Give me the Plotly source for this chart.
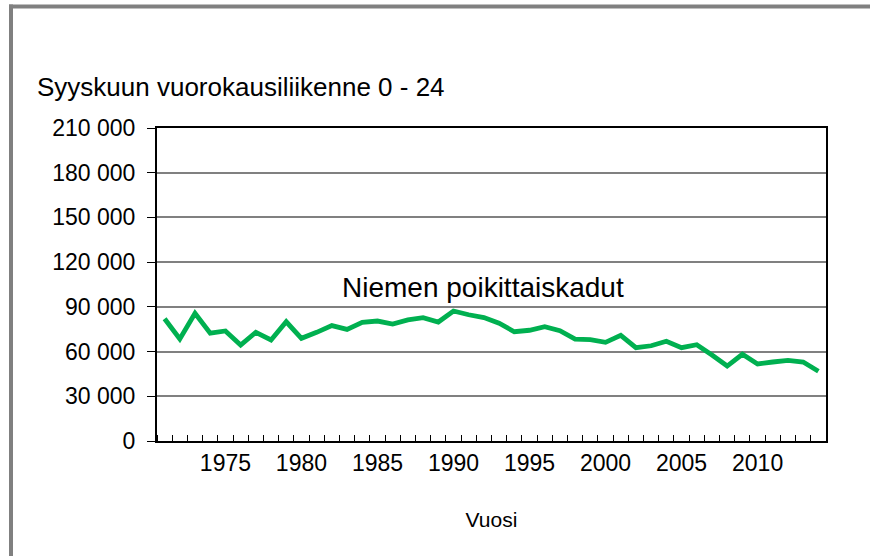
import plotly.graph_objects as go

years = list(range(1971, 2015))
traffic = [82000, 68400, 85700, 72300, 73800, 64400, 72900, 67800, 80000, 68900,
           72900, 77400, 74900, 79600, 80500, 78500, 81200, 82700, 79800, 87200,
           84700, 82800, 79000, 73300, 74300, 76700, 74000, 68400, 68000, 66200,
           70900, 62600, 63900, 66900, 62600, 64600, 57700, 50300, 58200, 51700,
           53000, 54100, 53000, 46800]
series_name = "Niemen poikittaiskadut"
y_ticks = [0, 30000, 60000, 90000, 120000, 150000, 180000, 210000]
x_label_years = [1975, 1980, 1985, 1990, 1995, 2000, 2005, 2010]
title_text = "Syyskuun vuorokausiliikenne 0 - 24"
x_title = "Vuosi"

FONT = "Arial, Liberation Sans, sans-serif"

fig = go.Figure()
fig.add_trace(go.Scatter(
    x=years, y=traffic, mode="lines", name=series_name,
    line=dict(color="#00B050", width=4.8), showlegend=False,
))

fig.update_layout(
    width=870, height=556,
    margin=dict(l=157, r=44, t=128, b=115),
    paper_bgcolor="white", plot_bgcolor="white",
    separators=", ",
    font=dict(family=FONT, color="black", size=23),
    title=dict(text=title_text, x=37/870, xanchor="left", y=1-87/556, yanchor="middle",
               font=dict(family=FONT, size=26, color="black")),
    xaxis=dict(
        range=[years[0]-0.5, years[-1]+0.5],
        tickmode="array", tickvals=x_label_years, ticktext=[str(v) for v in x_label_years],
        ticks="", showgrid=False, zeroline=False,
        showline=True, linecolor="black", linewidth=2, mirror=True,
        tickfont=dict(size=23),
        minor=dict(tickmode="array", tickvals=[y - 0.5 for y in years] + [years[-1] + 0.5],
                   ticks="inside", ticklen=6, tickwidth=1.2, tickcolor="black", showgrid=False),
        title=dict(text=x_title, font=dict(size=21), standoff=38),
    ),
    yaxis=dict(
        range=[0, 210000],
        tickmode="array", tickvals=y_ticks,
        tickformat=",d",
        ticks="outside", ticklen=8, tickwidth=1.2, tickcolor="black",
        showgrid=True, gridcolor="#808080", gridwidth=1.5,
        zeroline=False,
        showline=True, linecolor="black", linewidth=2, mirror=True,
        tickfont=dict(size=23),
        ticklabelstandoff=7,
    ),
)

fig.add_annotation(
    text=series_name, xref="paper", yref="paper",
    x=(483-157)/669, y=(441-287)/313, xanchor="center", yanchor="middle",
    showarrow=False, font=dict(family=FONT, size=28, color="black"),
    bgcolor="white",
)

# outer chart frame (grey), running off the visible area on right and bottom
fig.add_shape(type="line", xref="paper", yref="paper",
              x0=(9-157)/669, x1=(870-157)/669, y0=(441-6.5)/313, y1=(441-6.5)/313,
              line=dict(color="#808080", width=4))
fig.add_shape(type="line", xref="paper", yref="paper",
              x0=(11-157)/669, x1=(11-157)/669, y0=(441-4.5)/313, y1=(441-556)/313,
              line=dict(color="#808080", width=4))

fig.write_html("out.html", config={"displayModeBar": False},
               post_script="document.body.style.margin='0px';document.body.style.overflow='hidden';")
